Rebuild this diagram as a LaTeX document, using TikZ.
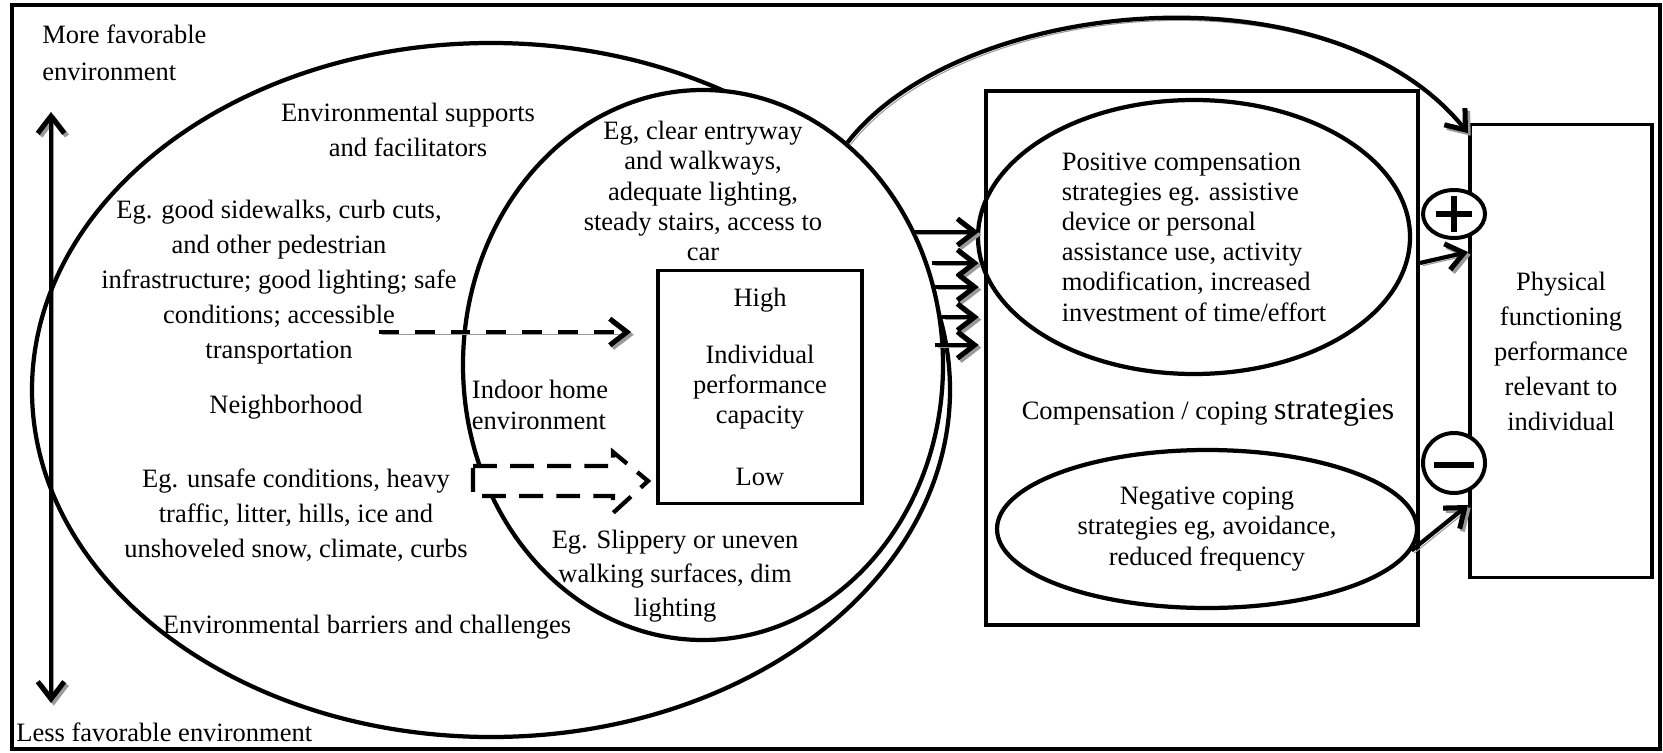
\documentclass[tikz,border=0pt]{standalone}
\usepackage{fontspec}
\setmainfont{Liberation Serif}
\usetikzlibrary{positioning, arrows.meta, shapes.geometric}
\newcommand{\pxu}{0.3774pt}
\tikzset{
    % Region and block styles
    zone/.style={ellipse, draw, line width=1.6pt, inner sep=0pt, align=center},
    block/.style={rectangle, draw, line width=1.5pt, inner sep=0pt, align=center},
    sign/.style={ellipse, draw, fill=white, line width=1.5pt, inner sep=0pt},
    % Text styles
    txt/.style={align=center, font=\fontsize{10}{13.2}\selectfont},
    tight txt/.style={align=center, font=\fontsize{10}{11.4}\selectfont},
    % Arrow styles
    barb/.tip={Straight Barb[length=6.5pt, width=10pt, line width=1.9pt]},
    shadowed/.style={preaction={draw=black!40, transform canvas={shift={(1pt,-1pt)}}}},
    arrow/.style={-barb, line width=1.6pt},
    dash arrow/.style={arrow, dash pattern=on 7.5pt off 6pt},
}

\begin{document}
\begin{tikzpicture}[x=\pxu, y=-\pxu]
    \useasboundingbox (0,0) rectangle (1663,752);
    \draw[line width=1.4pt] (12,5) rectangle (1660,749);

    % Favorable axis
    \node[align=left, anchor=west, font=\fontsize{10}{14}\selectfont] (more) at (33,53) {More favorable\\environment};
    \node[txt, anchor=west] (less) at (7,732) {Less favorable environment};
    \coordinate (up) at (51,112);
    \coordinate (down) at (51,703);
    \draw[arrow, shadowed, barb-barb] (up) -- (down);

    % Neighborhood and home
    \node[zone, minimum width=918*\pxu, minimum height=694*\pxu] (hood) at (491,390) {};
    \node[zone, fill=white, minimum width=480*\pxu, minimum height=550*\pxu] (home) at (703,365) {};

    \node[txt] (supp) at (408,130) {Environmental supports\\and facilitators};
    \node[txt] (suppeg) at (279,282) {Eg. good sidewalks, curb cuts,\\and other pedestrian\\infrastructure; good lighting; safe\\conditions; accessible\\transportation};
    \node[txt] (nbhd) at (286,407) {Neighborhood};
    \node[txt] (barreg) at (296,515) {Eg. unsafe conditions, heavy\\traffic, litter, hills, ice and\\unshoveled snow, climate, curbs};
    \node[txt] (barr) at (367,627) {Environmental barriers and challenges};
    \node[tight txt, align=left] (indoor) at (540,405) {Indoor home\\environment};
    \node[tight txt] (homeeg) at (703,191) {Eg, clear entryway\\and walkways,\\adequate lighting,\\steady stairs, access to\\car};
    \node[align=center, font=\fontsize{10}{12.8}\selectfont] (slip) at (675,576) {Eg. Slippery or uneven\\walking surfaces, dim\\lighting};

    % Capacity box
    \node[block, tight txt, minimum width=204*\pxu, minimum height=233*\pxu] (perf) at (760,387) {Individual\\performance\\capacity};
    \node[txt] (high) at (760,300) {High};
    \node[txt] (low) at (760,477) {Low};

    % Environment -> capacity
    \coordinate (suppin) at (379,332);
    \draw[dash arrow, shadowed, shorten >=9.4pt] (suppin) -- (suppin -| perf.west);
    \draw[line width=1.6pt, dash pattern=on 9pt off 5pt, fill=white]
        (473,466) -- (613,466) -- (613,452) -- (648,481) -- (613,513) -- (613,496) -- (473,496) -- cycle;

    % Compensation / coping
    \node[block, minimum width=432*\pxu, minimum height=534*\pxu] (comp) at (1202,358) {};
    \node[zone, tight txt, align=left, minimum width=432*\pxu, minimum height=274*\pxu] (pos) at (1194,237) {Positive compensation\\strategies eg. assistive\\device or personal\\assistance use, activity\\modification, increased\\investment of time/effort};
    \node[txt] (comptxt) at (1208,412) {Compensation / coping {\fontsize{12}{14}\selectfont strategies}};
    \node[zone, tight txt, minimum width=420*\pxu, minimum height=158*\pxu] (neg) at (1207,529) {Negative coping\\strategies eg, avoidance,\\reduced frequency};

    % Outcome
    \node[block, txt, minimum width=182*\pxu, minimum height=453*\pxu] (phys) at (1561,351) {Physical\\functioning\\performance\\relevant to\\individual};
    \node[sign, minimum width=62*\pxu, minimum height=48*\pxu] (plus) at (1454,214) {};
    \draw[line width=2pt] (plus.center) +(-18,0) -- +(18,0) +(0,-18) -- +(0,18);
    \node[sign, minimum width=62*\pxu, minimum height=60*\pxu] (minus) at (1454,463) {};
    \draw[line width=2.2pt] (minus.center) +(-20,2) -- +(20,2);

    % Arrows into compensation
    \foreach \x/\y in {913/232, 932/263, 935/287, 942/317, 935/345} {
        \draw[arrow, shadowed, shorten >=2pt] (\x,\y) -- (\x,\y -| comp.west);
    }

    % Arrows into outcome
    \draw[arrow, shadowed] (1420,263 -| comp.east) -- (0,252 -| phys.west);
    \draw[arrow, shadowed] (neg.-6) -- (0,505 -| phys.west);
    \draw[arrow, shadowed] (home.57) .. controls (960,-3) and (1330,-38) .. ([yshift=-4pt]phys.north west);
\end{tikzpicture}
\end{document}
